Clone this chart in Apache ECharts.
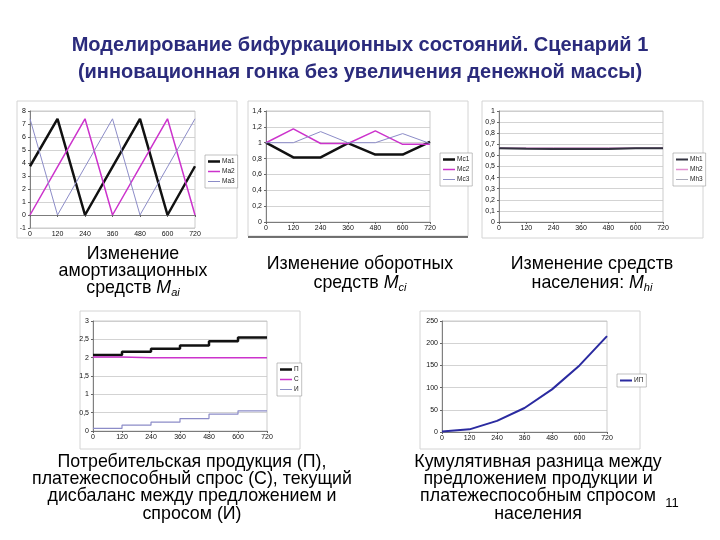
<!DOCTYPE html>
<html><head><meta charset="utf-8">
<script src="https://cdn.jsdelivr.net/npm/echarts@6/dist/echarts.min.js"></script>
<style>html,body{margin:0;padding:0;background:#fff}#c{width:720px;height:540px}</style>
</head><body><div id="c"></div>
<script>
const xTicks = [0, 120, 240, 360, 480, 600, 720];
// Chart 1: Ma
const ma1 = [3.75, 7.4, 0, 3.7, 7.4, 0, 3.75];
const ma2 = [0, 3.7, 7.4, 0, 3.7, 7.4, 0];
const ma3 = [7.4, 0, 3.7, 7.4, 0, 3.7, 7.4];
// Chart 2: Mc
const mc1 = [1, 0.815, 0.815, 0.995, 0.85, 0.85, 1.01];
const mc2 = [1, 1.175, 0.99, 0.99, 1.15, 0.98, 0.98];
const mc3 = [1, 1.0, 1.14, 1.0, 1.0, 1.115, 0.99];
// Chart 3: Mh
const mh1 = [0.665, 0.66, 0.657, 0.657, 0.657, 0.665, 0.665];
const mh2 = [0.665, 0.665, 0.665, 0.665, 0.665, 0.665, 0.665];
const mh3 = [0.67, 0.67, 0.67, 0.67, 0.67, 0.67, 0.67];
// Chart 4: П, С, И (step)
const pVals = [2.07, 2.16, 2.24, 2.33, 2.45, 2.55, 2.55];
const cVals = [2.02, 2.0, 2.0, 2.0, 2.0, 2.0, 2.0];
const iVals = [0.07, 0.16, 0.24, 0.34, 0.46, 0.55, 0.55];
// Chart 5: ИП
const ipVals = [1, 6, 25, 54, 96, 150, 216];

const FONT = '"Liberation Sans", Arial, sans-serif';
const pairs = arr => arr.map((v, i) => [xTicks[i], v]);
const comma = v => String(Math.round(v * 100) / 100).replace('.', ',');

const grids = [
  {left: 30, top: 111, width: 165, height: 117},
  {left: 266, top: 111, width: 164, height: 111},
  {left: 499, top: 111, width: 164, height: 111},
  {left: 93, top: 321, width: 174, height: 110},
  {left: 442, top: 321, width: 165, height: 111}
].map(g => Object.assign(g, {show: true, borderColor: '#aaa', borderWidth: 0.6, backgroundColor: '#fff'}));

const yRanges = [[-1, 8, 1], [0, 1.4, 0.2], [0, 1, 0.1], [0, 3, 0.5], [0, 250, 50]];

const xAxes = grids.map((g, i) => ({
  gridIndex: i, type: 'value', min: 0, max: 720, interval: 120,
  axisLine: {onZero: true, lineStyle: {color: '#666', width: 0.8}},
  axisTick: {show: true, length: 2, lineStyle: {color: '#666'}},
  axisLabel: {fontSize: 7, color: '#111', margin: 3, fontFamily: FONT},
  splitLine: {show: false}
}));
const yAxes = yRanges.map((r, i) => ({
  gridIndex: i, type: 'value', min: r[0], max: r[1], interval: r[2],
  axisLine: {show: true, lineStyle: {color: '#666', width: 0.8}},
  axisTick: {show: true, length: 2, lineStyle: {color: '#666'}},
  axisLabel: {fontSize: 7, color: '#111', margin: 4, fontFamily: FONT, formatter: comma},
  splitLine: {show: true, lineStyle: {color: '#c8c8c8', width: 0.8}}
}));

const widths = {};
function line(name, data, idx, color, width, step) {
  widths[name] = width;
  return {
    name, type: 'line', xAxisIndex: idx, yAxisIndex: idx, data: pairs(data),
    symbol: 'none', step: step || false, animation: false,
    lineStyle: {color, width}, itemStyle: {color}
  };
}
const BLK = '#111', MAG = '#cc33cc', LAV = '#8c8cc8';
const series = [
  line('Ma1', ma1, 0, BLK, 2.5), line('Ma2', ma2, 0, MAG, 1.5), line('Ma3', ma3, 0, LAV, 1),
  line('Mc1', mc1, 1, BLK, 2.5), line('Mc2', mc2, 1, MAG, 1.5), line('Mc3', mc3, 1, LAV, 1),
  line('Mh3', mh3, 2, '#a8a8b8', 1), line('Mh2', mh2, 2, '#e090d0', 1.5), line('Mh1', mh1, 2, '#333340', 2),
  line('П', pVals, 3, BLK, 2.5, 'end'), line('С', cVals, 3, MAG, 1.5, 'end'), line('И', iVals, 3, LAV, 1.2, 'end'),
  line('ИП', ipVals, 4, '#2a2aa0', 2)
];

// legend icon: a bar of given thickness inside a 20x10 box (tiny corner dots fix the box)
function barIcon(th) {
  const a = (5 - th / 2).toFixed(2), b = (5 + th / 2).toFixed(2);
  return 'path://M0,' + a + 'H20V' + b + 'H0Z M0,0H0.01V0.01H0Z M19.99,9.99H20V10H19.99Z';
}
function legend(names, left, top) {
  return {
    data: names.map(n => ({name: n, icon: barIcon(widths[n] * 1.6)})),
    orient: 'vertical', left, top, itemWidth: 12, itemHeight: 6, itemGap: 3,
    padding: [3, 3, 3, 3], borderColor: '#999', borderWidth: 0.6, backgroundColor: '#fff',
    selectedMode: false, textStyle: {fontSize: 6.5, color: '#222', fontFamily: FONT, padding: [0, 0, 0, -3]}
  };
}
const legends = [
  legend(['Ma1', 'Ma2', 'Ma3'], 205, 155),
  legend(['Mc1', 'Mc2', 'Mc3'], 440, 153),
  legend(['Mh1', 'Mh2', 'Mh3'], 673, 153),
  legend(['П', 'С', 'И'], 277, 363),
  legend(['ИП'], 617, 374)
];

function frame(x, y, w, h) {
  return {type: 'rect', shape: {x, y, width: w, height: h}, style: {fill: 'none', stroke: '#d4d4d4', lineWidth: 1}, z: 0};
}
const capStyle = {fontSize: 17.8, fontFamily: FONT, fill: '#000'};
const rich = {
  m: {fontSize: 17.8, fontStyle: 'italic', fontFamily: FONT},
  s: {fontSize: 11, fontStyle: 'italic', fontFamily: FONT, padding: [9, 0, 0, 0]}
};
function capC(cx, y, text, lh) {
  return {type: 'text', x: cx, y: y, style: Object.assign({text, align: 'center', verticalAlign: 'top', lineHeight: lh || 17.4, rich}, capStyle)};
}

const graphic = [
  frame(17, 101, 220, 137), frame(248, 101, 220, 135), frame(482, 101, 221, 137),
  frame(80, 311, 220, 138), frame(420, 311, 220, 138),
  {type: 'line', shape: {x1: 248, y1: 237, x2: 468, y2: 237}, style: {stroke: '#444', lineWidth: 1.5}},
  {type: 'text', x: 360, y: 32, style: {text: 'Моделирование бифуркационных состояний. Сценарий 1\n(инновационная гонка без увеличения денежной массы)', align: 'center', verticalAlign: 'top', lineHeight: 27, fontSize: 20, fontWeight: 'bold', fontFamily: FONT, fill: '#2b2b7c'}},
  capC(133, 245, 'Изменение\nамортизационных\nсредств {m|M}{s|ai}'),
  capC(360, 255, 'Изменение оборотных\nсредств {m|M}{s|ci}', 19),
  capC(592, 255, 'Изменение средств\nнаселения: {m|M}{s|hi}', 19),
  capC(192, 453, 'Потребительская продукция (П),\nплатежеспособный спрос (С), текущий\nдисбаланс между предложением и\nспросом (И)'),
  capC(538, 453, 'Кумулятивная разница между\nпредложением продукции и\nплатежеспособным спросом\nнаселения'),
  {type: 'text', x: 672, y: 497, style: {text: '11', align: 'center', verticalAlign: 'top', fontSize: 13, fontFamily: FONT, fill: '#000'}}
];

const chart = echarts.init(document.getElementById('c'), null, {renderer: 'canvas'});
chart.setOption({
  animation: false, backgroundColor: '#fff',
  grid: grids, xAxis: xAxes, yAxis: yAxes, series, legend: legends, graphic
});
</script></body></html>
